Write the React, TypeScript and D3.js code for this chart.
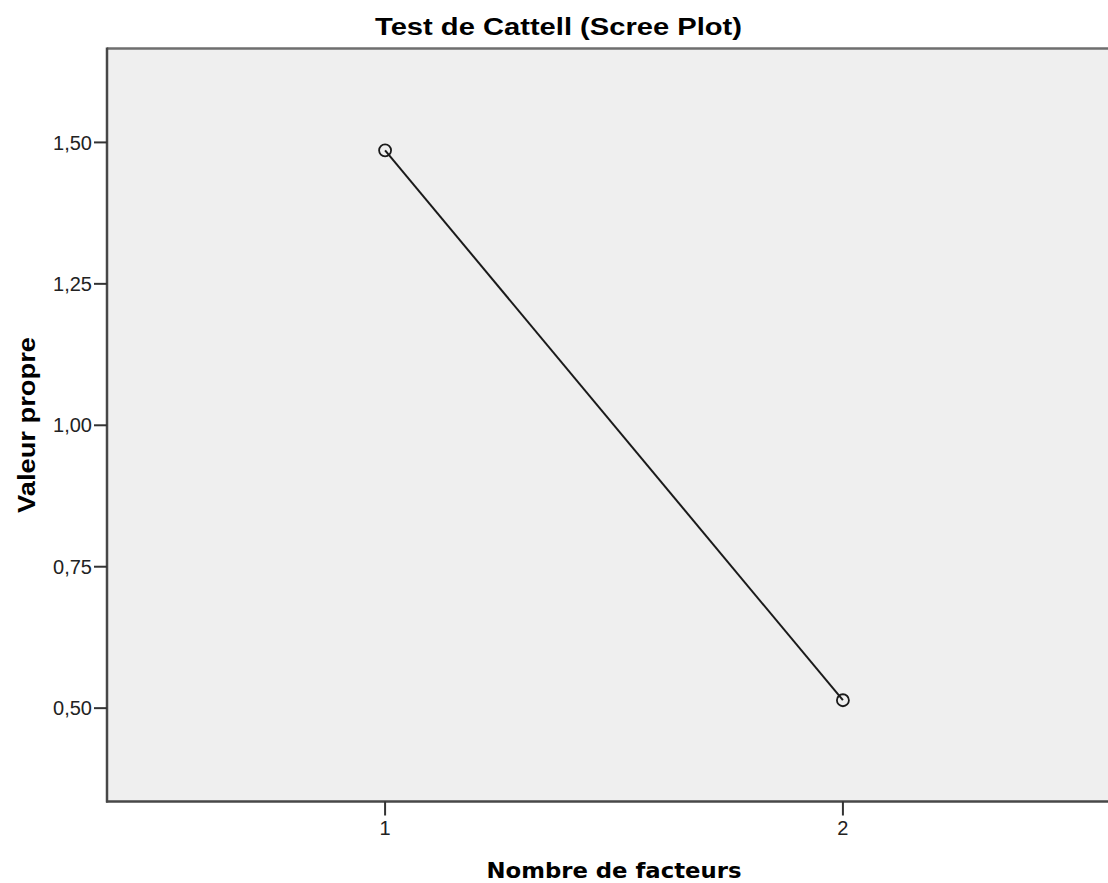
import React from "react";
import * as d3 from "d3";

const factors = [1, 2];
const eigenvalues = [1.486, 0.514];
const yTicks = [0.5, 0.75, 1.0, 1.25, 1.5];
const xTicks = [1, 2];
const title = "Test de Cattell (Scree Plot)";
const xLabel = "Nombre de facteurs";
const yLabel = "Valeur propre";

export default function App() {
  const W = 1108, H = 883;
  const left = 107, top = 48.5, right = 1121, bottom = 801.5;
  const x = d3.scaleLinear().domain([0.3926, 2.6074]).range([left, right]);
  const y = d3.scaleLinear().domain([0.335, 1.666]).range([bottom, top]);
  const pts = factors.map((f, i) => [x(f), y(eigenvalues[i])] as [number, number]);
  const line = d3.line()(pts) || "";
  const fmt = (v: number) => d3.format(".2f")(v).replace(".", ",");
  const arial = "'Liberation Sans', Arial, sans-serif";
  return (
    <svg width={W} height={H} style={{ position: "absolute", left: 0, top: 0, overflow: "hidden" }}>
      <rect x={0} y={0} width={W} height={H} fill="#ffffff" />
      <rect x={left} y={top} width={right - left} height={bottom - top} fill="#efefef" />
      <line x1={left} y1={top} x2={right + 5} y2={top} stroke="#6e6e6e" strokeWidth={2.5} />
      <line x1={left} y1={top - 1} x2={left} y2={bottom + 1} stroke="#474747" strokeWidth={2.5} />
      <line x1={left - 1} y1={bottom} x2={right + 5} y2={bottom} stroke="#474747" strokeWidth={2.5} />
      {yTicks.map((t) => (
        <g key={"y" + t}>
          <line x1={left - 13} x2={left} y1={y(t)} y2={y(t)} stroke="#333" strokeWidth={2} />
          <text x={left - 15} y={y(t)} dy="0.36em" textAnchor="end" fontFamily={arial} fontSize={20} fill="#222">
            {fmt(t)}
          </text>
        </g>
      ))}
      {xTicks.map((t) => (
        <g key={"x" + t}>
          <line x1={x(t)} x2={x(t)} y1={bottom} y2={bottom + 14} stroke="#333" strokeWidth={2} />
          <text x={x(t)} y={835} textAnchor="middle" fontFamily={arial} fontSize={20} fill="#222">
            {t}
          </text>
        </g>
      ))}
      <path d={line} fill="none" stroke="#1a1a1a" strokeWidth={2} />
      {pts.map((p, i) => (
        <circle key={i} cx={p[0]} cy={p[1]} r={6} fill="none" stroke="#1a1a1a" strokeWidth={1.8} />
      ))}
      <text x={558.5} y={35} textAnchor="middle" fontFamily={arial} fontWeight="bold" fontSize={23}
        textLength={367} lengthAdjust="spacingAndGlyphs" fill="#000">
        {title}
      </text>
      <text x={614} y={878} textAnchor="middle" fontFamily="'DejaVu Sans', Verdana, sans-serif" fontWeight="bold" fontSize={21}
        textLength={255} lengthAdjust="spacingAndGlyphs" fill="#000">
        {xLabel}
      </text>
      <text transform={`translate(35,425) rotate(-90)`} textAnchor="middle" fontFamily={arial} fontWeight="bold" fontSize={23}
        textLength={176} lengthAdjust="spacingAndGlyphs" fill="#000">
        {yLabel}
      </text>
    </svg>
  );
}
